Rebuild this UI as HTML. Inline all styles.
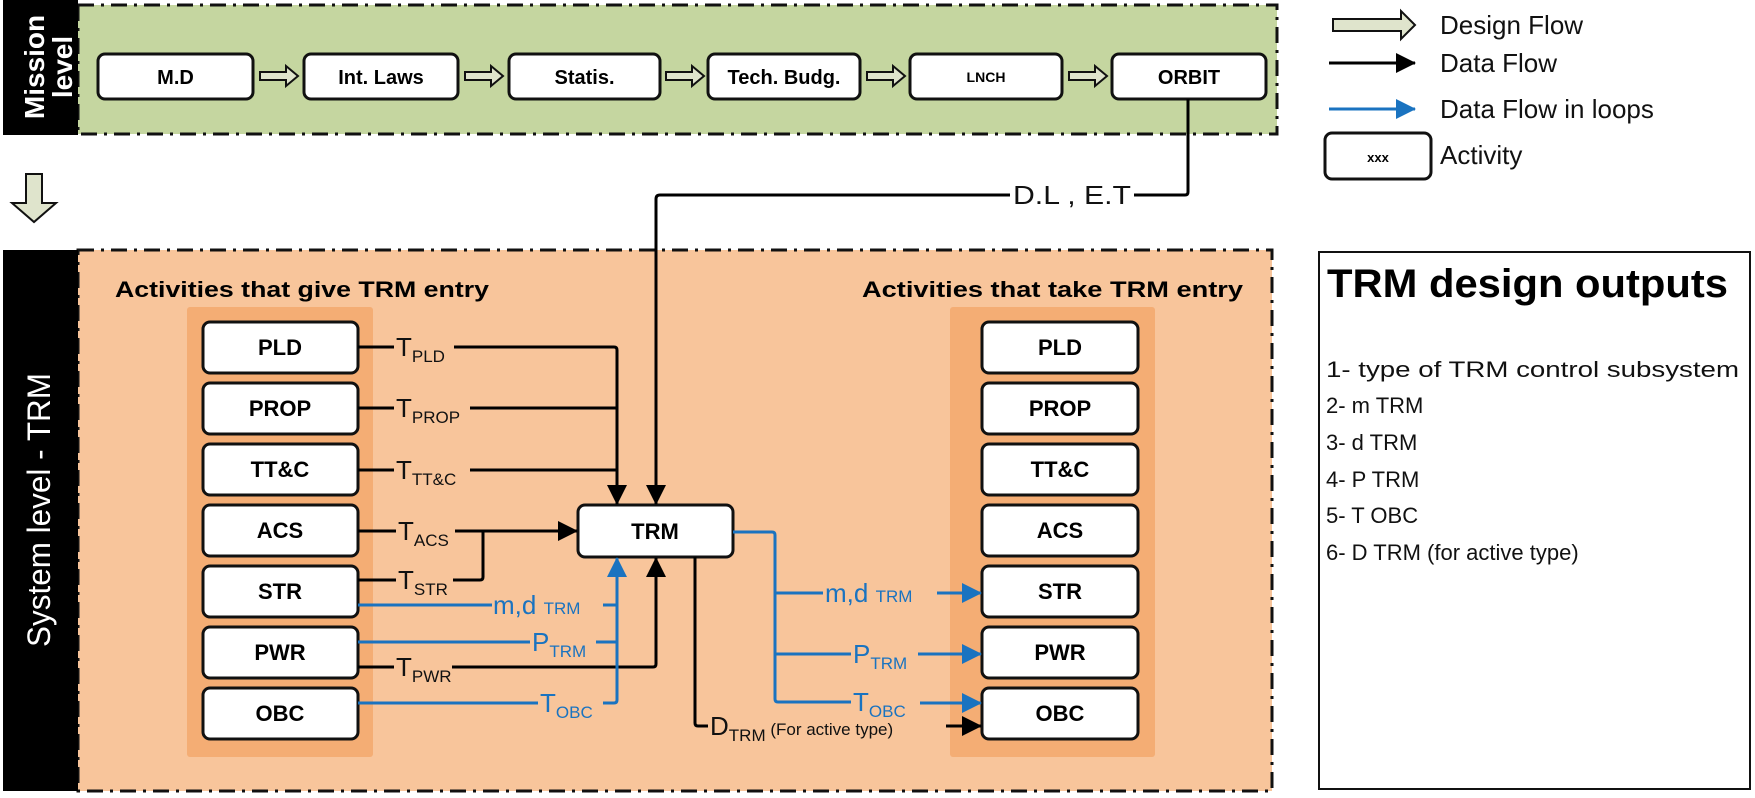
<!DOCTYPE html>
<html><head><meta charset="utf-8"><style>
html,body{margin:0;padding:0;background:#fff;}
svg{display:block;}
text{font-family:"Liberation Sans",sans-serif;}
.b{font-weight:bold;}
</style></head><body>
<svg width="1755" height="798" viewBox="0 0 1755 798" xmlns="http://www.w3.org/2000/svg">
<defs>
<marker id="ak" markerWidth="20" markerHeight="20" refX="9.5" refY="5" orient="auto" markerUnits="userSpaceOnUse" viewBox="0 0 10 10"><path d="M0,0 L10,5 L0,10 z" fill="#000"/></marker>
<marker id="ab" markerWidth="20" markerHeight="20" refX="9.5" refY="5" orient="auto" markerUnits="userSpaceOnUse" viewBox="0 0 10 10"><path d="M0,0 L10,5 L0,10 z" fill="#1a73c0"/></marker>
</defs>
<style>
.k{stroke:#000;stroke-width:3;fill:none;}
.bl{stroke:#1a73c0;stroke-width:3;fill:none;}
.akm{marker-end:url(#ak);}
.abm{marker-end:url(#ab);}
.box{fill:#fff;stroke:#111;stroke-width:3;}
.dash{fill:none;stroke:#111;stroke-width:3;stroke-dasharray:16 7 3 7;}
.t{font-size:26px;fill:#111;}
.tb{font-size:26px;fill:#1a73c0;}
</style>

<!-- Mission level band -->
<rect x="78" y="5" width="1199" height="129" fill="#c5d6a0"/>
<rect x="78" y="5" width="1199" height="129" class="dash"/>
<rect x="3" y="0" width="75" height="135" fill="#000"/>
<text transform="translate(44,67) rotate(-90)" text-anchor="middle" class="b" font-size="28" fill="#fff">Mission</text>
<text transform="translate(72,67) rotate(-90)" text-anchor="middle" class="b" font-size="28" fill="#fff">level</text>

<g>
<rect x="98" y="54" width="155" height="45" rx="7" class="box"/>
<text x="175.5" y="84" text-anchor="middle" class="b" font-size="20">M.D</text>
<rect x="304" y="54" width="154" height="45" rx="7" class="box"/>
<text x="381" y="84" text-anchor="middle" class="b" font-size="20">Int. Laws</text>
<rect x="509" y="54" width="151" height="45" rx="7" class="box"/>
<text x="584.5" y="84" text-anchor="middle" class="b" font-size="20">Statis.</text>
<rect x="708" y="54" width="152" height="45" rx="7" class="box"/>
<text x="784" y="84" text-anchor="middle" class="b" font-size="20">Tech. Budg.</text>
<rect x="910" y="54" width="152" height="45" rx="7" class="box"/>
<text x="986" y="82" text-anchor="middle" class="b" font-size="14">LNCH</text>
<rect x="1112" y="54" width="154" height="45" rx="7" class="box"/>
<text x="1189" y="84" text-anchor="middle" class="b" font-size="20">ORBIT</text>
</g>
<g fill="#dfe4cc" stroke="#111" stroke-width="2">
<path d="M260,72 h26 v-6 l12,10 l-12,10 v-6 h-26 z"/>
<path d="M465,72 h26 v-6 l12,10 l-12,10 v-6 h-26 z"/>
<path d="M666,72 h26 v-6 l12,10 l-12,10 v-6 h-26 z"/>
<path d="M867,72 h26 v-6 l12,10 l-12,10 v-6 h-26 z"/>
<path d="M1069,72 h26 v-6 l12,10 l-12,10 v-6 h-26 z"/>
</g>
<path d="M26,174 h16 v29 h14 l-22,19 l-22,-19 h14 z" fill="#dfe4cc" stroke="#111" stroke-width="2"/>

<!-- System level band -->
<rect x="78" y="250" width="1194" height="541" fill="#f8c59b"/>
<rect x="78" y="250" width="1194" height="541" class="dash"/>
<rect x="3" y="250" width="75" height="541" fill="#000"/>
<text transform="translate(50,510) rotate(-90)" text-anchor="middle" font-size="32" fill="#fff" textLength="274" lengthAdjust="spacingAndGlyphs">System level - TRM</text>

<text x="115" y="297" class="b" font-size="22" textLength="374" lengthAdjust="spacingAndGlyphs">Activities that give TRM entry</text>
<text x="862" y="297" class="b" font-size="22" textLength="381" lengthAdjust="spacingAndGlyphs">Activities that take TRM entry</text>

<rect x="187" y="307" width="186" height="450" rx="3" fill="#f4ad74"/>
<rect x="950" y="307" width="205" height="450" rx="3" fill="#f4ad74"/>

<g class="b" font-size="22" text-anchor="middle">
<rect x="203" y="322" width="155" height="51" rx="7" class="box"/><text x="280" y="355">PLD</text>
<rect x="203" y="383" width="155" height="51" rx="7" class="box"/><text x="280" y="416">PROP</text>
<rect x="203" y="444" width="155" height="51" rx="7" class="box"/><text x="280" y="477">TT&amp;C</text>
<rect x="203" y="505" width="155" height="51" rx="7" class="box"/><text x="280" y="538">ACS</text>
<rect x="203" y="566" width="155" height="51" rx="7" class="box"/><text x="280" y="599">STR</text>
<rect x="203" y="627" width="155" height="51" rx="7" class="box"/><text x="280" y="660">PWR</text>
<rect x="203" y="688" width="155" height="51" rx="7" class="box"/><text x="280" y="721">OBC</text>

<rect x="982" y="322" width="156" height="51" rx="7" class="box"/><text x="1060" y="355">PLD</text>
<rect x="982" y="383" width="156" height="51" rx="7" class="box"/><text x="1060" y="416">PROP</text>
<rect x="982" y="444" width="156" height="51" rx="7" class="box"/><text x="1060" y="477">TT&amp;C</text>
<rect x="982" y="505" width="156" height="51" rx="7" class="box"/><text x="1060" y="538">ACS</text>
<rect x="982" y="566" width="156" height="51" rx="7" class="box"/><text x="1060" y="599">STR</text>
<rect x="982" y="627" width="156" height="51" rx="7" class="box"/><text x="1060" y="660">PWR</text>
<rect x="982" y="688" width="156" height="51" rx="7" class="box"/><text x="1060" y="721">OBC</text>

<rect x="578" y="505" width="155" height="52" rx="7" class="box"/><text x="655" y="539">TRM</text>
</g>

<path d="M1188,99 V192 q0,3 -3,3 H1134" class="k" stroke-width="2.5"/>
<text x="1013" y="204" class="t" font-size="25" textLength="118" lengthAdjust="spacingAndGlyphs">D.L , E.T</text>
<path d="M1010,195 H660 q-4,0 -4,4 V504" class="k akm" stroke-width="2.5"/>

<path d="M358,347 H394" class="k"/>
<text x="396" y="356" class="t">T<tspan font-size="17" dy="6">PLD</tspan></text>
<path d="M454,347 H614 q3,0 3,3 V504" class="k akm"/>
<path d="M358,408 H394" class="k"/>
<text x="396" y="417" class="t">T<tspan font-size="17" dy="6">PROP</tspan></text>
<path d="M470,408 H617" class="k"/>
<path d="M358,470 H394" class="k"/>
<text x="396" y="479" class="t">T<tspan font-size="17" dy="6">TT&amp;C</tspan></text>
<path d="M470,470 H617" class="k"/>
<path d="M358,531 H396" class="k"/>
<text x="398" y="540" class="t">T<tspan font-size="17" dy="6">ACS</tspan></text>
<path d="M455,531 H577" class="k akm"/>
<path d="M358,580 H396" class="k"/>
<text x="398" y="589" class="t">T<tspan font-size="17" dy="6">STR</tspan></text>
<path d="M453,580 H480 q3,0 3,-3 V531" class="k"/>
<path d="M358,667 H394" class="k"/>
<text x="396" y="676" class="t">T<tspan font-size="17" dy="6">PWR</tspan></text>
<path d="M452,667 H653 q3,0 3,-3 V558" class="k akm"/>

<path d="M358,605 H492" class="bl"/>
<text x="493" y="614" class="tb">m,d <tspan font-size="17">TRM</tspan></text>
<path d="M603,605 H617" class="bl"/>
<path d="M358,642 H530" class="bl"/>
<text x="532" y="651" class="tb">P<tspan font-size="17" dy="6">TRM</tspan></text>
<path d="M596,642 H617" class="bl"/>
<path d="M358,703 H538" class="bl"/>
<text x="540" y="712" class="tb">T<tspan font-size="17" dy="6">OBC</tspan></text>
<path d="M603,703 H614 q3,0 3,-3 V558" class="bl abm"/>

<path d="M733,532 H772 q3,0 3,3 V699 q0,3 3,3 H851" class="bl"/>
<path d="M775,593 H823" class="bl"/>
<text x="825" y="602" class="tb">m,d <tspan font-size="17">TRM</tspan></text>
<path d="M937,593 H981" class="bl abm"/>
<path d="M775,654 H851" class="bl"/>
<text x="853" y="663" class="tb">P<tspan font-size="17" dy="6">TRM</tspan></text>
<path d="M918,654 H981" class="bl abm"/>
<text x="853" y="711" class="tb">T<tspan font-size="17" dy="6">OBC</tspan></text>
<path d="M920,703 H981" class="bl abm"/>

<path d="M695,557 V723 q0,3 3,3 H708" class="k"/>
<text x="710" y="735" class="t">D<tspan font-size="17" dy="6">TRM</tspan><tspan font-size="17" dy="-6"> (For active type)</tspan></text>
<path d="M946,726 H981" class="k akm"/>

<!-- Legend -->
<path d="M1333,19 h68 v-8 l14,14 l-14,14 v-8 h-68 z" fill="#dfe4cc" stroke="#111" stroke-width="2"/>
<text x="1440" y="34" font-size="26" fill="#111">Design Flow</text>
<path d="M1329,63 H1415" class="k akm" stroke-width="2"/>
<text x="1440" y="72" font-size="26" fill="#111">Data Flow</text>
<path d="M1329,109 H1415" class="bl abm" stroke-width="2"/>
<text x="1440" y="118" font-size="26" fill="#111">Data Flow in loops</text>
<rect x="1325" y="133" width="106" height="46" rx="7" class="box" stroke-width="2.5"/>
<text x="1378" y="162" text-anchor="middle" class="b" font-size="13">xxx</text>
<text x="1440" y="164" font-size="26" fill="#111">Activity</text>

<rect x="1319" y="252" width="431" height="537" fill="#fff" stroke="#111" stroke-width="2"/>
<text x="1327" y="297" class="b" font-size="40" textLength="401" lengthAdjust="spacingAndGlyphs">TRM design outputs</text>
<g font-size="22" fill="#111">
<text x="1326" y="377" textLength="413" lengthAdjust="spacingAndGlyphs">1- type of TRM control subsystem</text>
<text x="1326" y="413">2- m TRM</text>
<text x="1326" y="450">3- d TRM</text>
<text x="1326" y="487">4- P TRM</text>
<text x="1326" y="523">5- T OBC</text>
<text x="1326" y="560">6- D TRM (for active type)</text>
</g>
</svg>
</body></html>
